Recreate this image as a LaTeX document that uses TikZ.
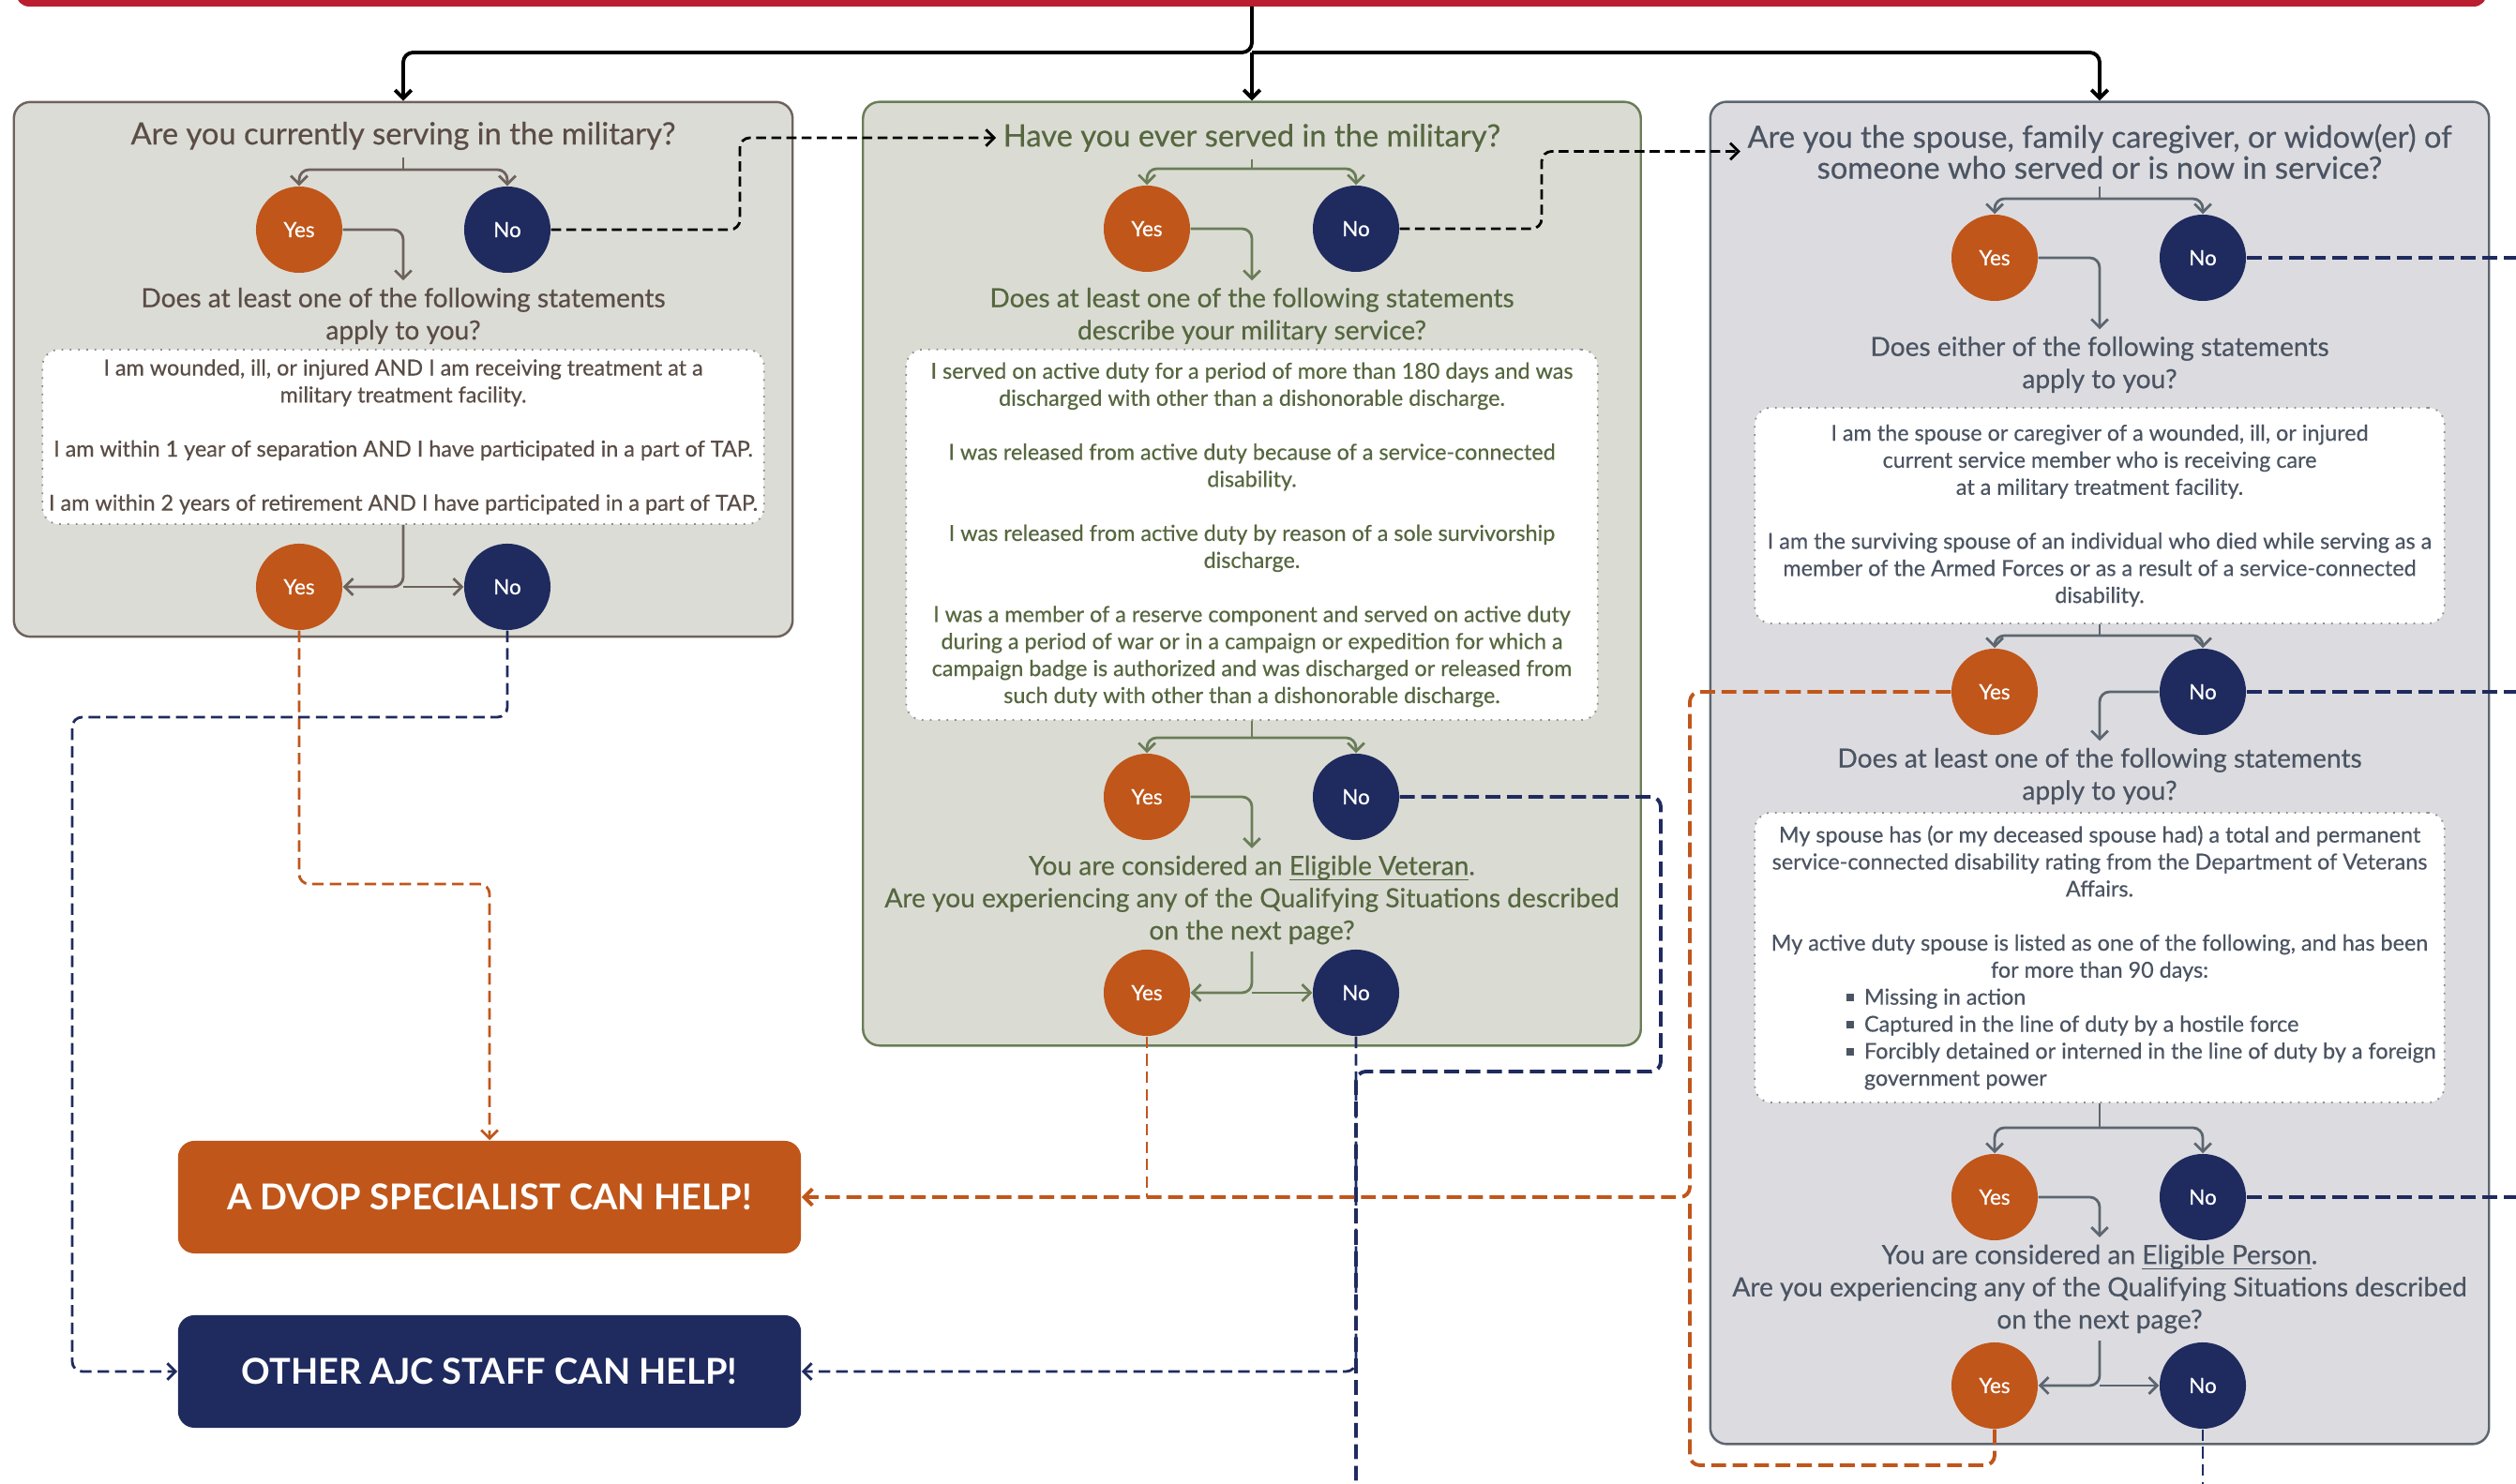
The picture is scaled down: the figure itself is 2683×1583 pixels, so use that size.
\documentclass[tikz,border=0pt]{standalone}
\usepackage{fontspec}
\setmainfont{Lato}
\newfontfamily\medfont{Lato}[FakeBold=0.45]
\usetikzlibrary{arrows.meta,positioning}

\definecolor{yesorange}{HTML}{C0561A}
\definecolor{nonavy}{HTML}{1F2B5F}
\definecolor{redbar}{HTML}{BA1E2F}
\definecolor{fillA}{HTML}{DCDCD6}
\definecolor{edgeA}{HTML}{6E625C}
\definecolor{textA}{HTML}{5A4D46}
\definecolor{fillB}{HTML}{DADCD4}
\definecolor{edgeB}{HTML}{6A7D57}
\definecolor{textB}{HTML}{56673F}
\definecolor{fillC}{HTML}{DCDCE0}
\definecolor{edgeC}{HTML}{5C6670}
\definecolor{textC}{HTML}{4B5462}

\newcommand{\titlefont}{\medfont\fontsize{9.3}{9.4}\selectfont}
\newcommand{\askfont}{\medfont\fontsize{8}{9.8}\selectfont}
\newcommand{\stmtfont}{\medfont\fontsize{6.65}{8.2}\selectfont}
\newcommand{\sqitem}[1]{\makebox[5.39cm][l]{\rule[0.3ex]{2.3pt}{2.3pt}\hspace{3pt}#1}}
\newcommand{\uline}[1]{\underline{\smash{#1}}}

\tikzset{
  panel/.style={rounded corners=5pt, line width=0.7pt, inner sep=0pt},
  ask/.style={font=\askfont, align=center, inner sep=2pt},
  title/.style={ask, font=\titlefont},
  stmt/.style={draw=gray!90, dotted, line width=0.5pt, fill=white, rounded corners=5pt,
    font=\stmtfont, align=center, inner sep=0pt},
  yes/.style={circle, fill=yesorange, text=white, minimum size=0.92cm, inner sep=0pt,
    font=\medfont\fontsize{6.4}{7}\selectfont},
  no/.style={yes, fill=nonavy},
  link/.style={line width=0.8pt, rounded corners=3pt},
  tip/.style={-{Straight Barb[length=2.5pt,width=5pt]}},
  blkdash/.style={line width=0.8pt, black, dash pattern=on 3pt off 1.6pt, rounded corners=3pt},
  orA/.style={line width=0.8pt, draw=yesorange, dash pattern=on 3.5pt off 1.8pt, rounded corners=3pt},
  nvA/.style={line width=0.8pt, draw=nonavy, dash pattern=on 3.5pt off 1.8pt, rounded corners=3pt},
  orB/.style={line width=1.1pt, draw=yesorange, dash pattern=on 4.5pt off 2pt, rounded corners=3pt},
  nvB/.style={line width=1.1pt, draw=nonavy, dash pattern=on 4.5pt off 2pt, rounded corners=3pt},
  help/.style={rounded corners=5pt, text=white, minimum width=6.64cm, minimum height=1.2cm,
    font=\bfseries\fontsize{10.8}{12}\selectfont},
}

\begin{document}
\begin{tikzpicture}[x=0.01cm, y=-0.01cm]
\useasboundingbox (0,0) rectangle (2683,1583);
% red band on top
\fill[redbar, rounded corners=4pt] (17,-30) rectangle (2652,7);

% the three panels
\node (p1) [panel, draw=edgeA, fill=fillA, minimum width=8.3cm, minimum height=5.7cm] at (430,394) {};
\node (p2) [panel, draw=edgeB, fill=fillB, minimum width=8.29cm, minimum height=10.06cm] at (1335,612) {};
\node (p3) [panel, draw=edgeC, fill=fillC, minimum width=8.3cm, minimum height=14.31cm] at (2239,824.5) {};

% start
\coordinate (top) at (1335,7);
\coordinate (split) at (1335,56);
\draw[link, line width=1.1pt, tip] (top) -- (split) -| (p1.north);
\draw[link, line width=1.1pt, tip] (split) -- (p2.north);
\draw[link, line width=1.1pt, tip] (split) -| (p3.north);

% panel 1: serving now
\node (q1) [title, text=textA] at (430,145) {Are you currently serving in the military?};
\node (y1a) [yes] at (319,245) {Yes};
\node (n1a) [no] at (541,245) {No};
\node (d1) [ask, text=textA] at (430,337) {Does at least one of the following statements\\ apply to you?};
\node (w1) [stmt, text=textA, minimum width=7.69cm, minimum height=1.86cm] at (430,466)
  {I am wounded, ill, or injured AND I am receiving treatment at a\\
   military treatment facility.\\[8.2pt]
   I am within 1 year of separation AND I have participated in a part of TAP.\\[8.2pt]
   I am within 2 years of retirement AND I have participated in a part of TAP.};
\node (y1b) [yes] at (319,626) {Yes};
\node (n1b) [no] at (541,626) {No};
\coordinate (j1a) at (430,181);
\coordinate (j1b) at (430,626);
\draw[link, edgeA] (q1.south) -- (j1a);
\draw[link, edgeA, tip] (j1a) -| (y1a.north);
\draw[link, edgeA, tip] (j1a) -| (n1a.north);
\draw[link, edgeA, tip] (y1a.east) -| (d1.north);
\draw[link, edgeA, tip] (w1.south) -- (j1b) -- (y1b.east);
\draw[link, edgeA, tip] (j1b) -- (n1b.west);

% panel 2: served before
\node (q2) [title, text=textB] at (1335,147) {Have you ever served in the military?};
\node (y2a) [yes] at (1223,244) {Yes};
\node (n2a) [no] at (1446,244) {No};
\node (d2) [ask, text=textB] at (1335,337) {Does at least one of the following statements\\ describe your military service?};
\node (w2) [stmt, text=textB, minimum width=7.37cm, minimum height=3.95cm] at (1335,570.5)
  {I served on active duty for a period of more than 180 days and was\\
   discharged with other than a dishonorable discharge.\\[8.2pt]
   I was released from active duty because of a service-connected\\
   disability.\\[8.2pt]
   I was released from active duty by reason of a sole survivorship\\
   discharge.\\[8.2pt]
   I was a member of a reserve component and served on active duty\\
   during a period of war or in a campaign or expedition for which a\\
   campaign badge is authorized and was discharged or released from\\
   such duty with other than a dishonorable discharge.};
\node (y2b) [yes] at (1223,850) {Yes};
\node (n2b) [no] at (1446,850) {No};
\node (e2) [ask, text=textB] at (1335,960) {You are considered an \uline{Eligible Veteran}.\\
  Are you experiencing any of the Qualifying Situations described\\ on the next page?};
\node (y2c) [yes] at (1223,1059) {Yes};
\node (n2c) [no] at (1446,1059) {No};
\coordinate (j2a) at (1335,180);
\coordinate (j2b) at (1335,787);
\coordinate (j2c) at (1335,1059);
\draw[link, edgeB] (q2.south) -- (j2a);
\draw[link, edgeB, tip] (j2a) -| (y2a.north);
\draw[link, edgeB, tip] (j2a) -| (n2a.north);
\draw[link, edgeB, tip] (y2a.east) -| (d2.north);
\draw[link, edgeB] (w2.south) -- (j2b);
\draw[link, edgeB, tip] (j2b) -| (y2b.north);
\draw[link, edgeB, tip] (j2b) -| (n2b.north);
\draw[link, edgeB, tip] (y2b.east) -| (e2.north);
\draw[link, edgeB, tip] (e2.south) -- (j2c) -- (y2c.east);
\draw[link, edgeB, tip] (j2c) -- (n2c.west);

% panel 3: spouse or caregiver
\node (q3) [title, text=textC] at (2239,161.5) {Are you the spouse, family caregiver, or widow(er) of\\ someone who served or is now in service?};
\node (y3a) [yes] at (2127,275) {Yes};
\node (n3a) [no] at (2349,275) {No};
\node (d3) [ask, text=textC] at (2239,389) {Does either of the following statements\\ apply to you?};
\node (w3) [stmt, text=textC, minimum width=7.35cm, minimum height=2.3cm] at (2239,550)
  {I am the spouse or caregiver of a wounded, ill, or injured\\
   current service member who is receiving care\\
   at a military treatment facility.\\[8.2pt]
   I am the surviving spouse of an individual who died while serving as a\\
   member of the Armed Forces or as a result of a service-connected\\
   disability.};
\node (y3b) [yes] at (2127,738) {Yes};
\node (n3b) [no] at (2349,738) {No};
\node (d4) [ask, text=textC] at (2239,828) {Does at least one of the following statements\\ apply to you?};
\node (w4) [stmt, text=textC, minimum width=7.35cm, minimum height=3.09cm] at (2239,1021.5)
  {My spouse has (or my deceased spouse had) a total and permanent\\
   service-connected disability rating from the Department of Veterans\\
   Affairs.\\[8.2pt]
   My active duty spouse is listed as one of the following, and has been\\
   for more than 90 days:\\
   \sqitem{Missing in action}\\
   \sqitem{Captured in the line of duty by a hostile force}\\
   \sqitem{Forcibly detained or interned in the line of duty by a foreign}\\
   \makebox[5.39cm][l]{\hspace{5.3pt}government power}};
\node (y3c) [yes] at (2127,1277) {Yes};
\node (n3c) [no] at (2349,1277) {No};
\node (e3) [ask, text=textC] at (2239,1375) {You are considered an \uline{Eligible Person}.\\
  Are you experiencing any of the Qualifying Situations described\\ on the next page?};
\node (y3d) [yes] at (2127,1478) {Yes};
\node (n3d) [no] at (2349,1478) {No};
\coordinate (j3a) at (2239,212);
\coordinate (j3b) at (2239,678);
\coordinate (j3c) at (2239,1203);
\coordinate (j3d) at (2239,1478);
\draw[link, edgeC] (q3.south) -- (j3a);
\draw[link, edgeC, tip] (j3a) -| (y3a.north);
\draw[link, edgeC, tip] (j3a) -| (n3a.north);
\draw[link, edgeC, tip] (y3a.east) -| (d3.north);
\draw[link, edgeC] (w3.south) -- (j3b);
\draw[link, edgeC, tip] (j3b) -| (y3b.north);
\draw[link, edgeC, tip] (j3b) -| (n3b.north);
\draw[link, edgeC, tip] (n3b.west) -| (d4.north);
\draw[link, edgeC] (w4.south) -- (j3c);
\draw[link, edgeC, tip] (j3c) -| (y3c.north);
\draw[link, edgeC, tip] (j3c) -| (n3c.north);
\draw[link, edgeC, tip] (y3c.east) -| (e3.north);
\draw[link, edgeC, tip] (e3.south) -- (j3d) -- (y3d.east);
\draw[link, edgeC, tip] (j3d) -- (n3d.west);

% outcomes
\node (dvop) [help, fill=yesorange] at (522,1277) {A DVOP SPECIALIST CAN HELP!};
\node (ajc) [help, fill=nonavy] at (522,1463) {OTHER AJC STAFF CAN HELP!};

% routes between panels
\draw[blkdash, tip] (n1a.east) -| (789,147) -- (q2.west);
\draw[blkdash, tip] (n2a.east) -| (1644,161.5) -- (q3.west);
\draw[orA, tip] (y1b.south) |- (522,943) -- (dvop.north);
\draw[nvA, tip] (n1b.south) |- (77,765) |- (ajc.west);
\draw[nvB] (n2b.east) -| (1771,1143) -| (1446,1583);
\draw[nvA, tip] (n2c.south) |- (ajc.east);
\draw[orA] (y2c.south) -- (1223,1277);
\draw[orB, tip] (y3b.west) -| (1802,1277) -- (dvop.east);
\draw[orB] (y3d.south) |- (1802,1563) -- (1802,1277);
\draw[nvB] (n3a.east) -- (2683,275);
\draw[nvB] (n3b.east) -- (2683,738);
\draw[nvB] (n3c.east) -- (2683,1277);
\draw[nvA] (n3d.south) -- (2349,1583);
\end{tikzpicture}
\end{document}
